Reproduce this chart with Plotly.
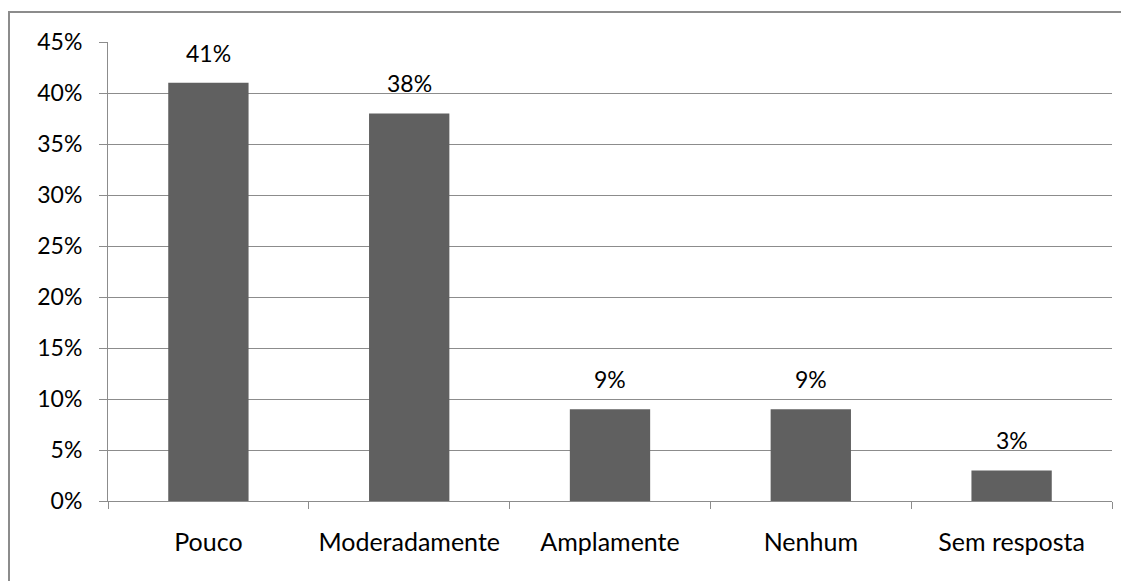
import plotly.graph_objects as go

categories = ["Pouco", "Moderadamente", "Amplamente", "Nenhum", "Sem resposta"]
values = [41, 38, 9, 9, 3]
labels = ["41%", "38%", "9%", "9%", "3%"]
y_ticks = [0, 5, 10, 15, 20, 25, 30, 35, 40, 45]
y_tick_text = ["0%", "5%", "10%", "15%", "20%", "25%", "30%", "35%", "40%", "45%"]

FONT = "Lato"
FS = 23
fig = go.Figure()
fig.add_trace(go.Bar(
    x=categories, y=values,
    marker=dict(color="#606060", line=dict(width=0)),
    width=0.4,
))
for c, v, t in zip(categories, values, labels):
    fig.add_annotation(x=c, y=v, text=t, showarrow=False, yanchor="bottom",
                       yshift=14, font=dict(family=FONT, size=FS, color="#000000"))
fig.update_layout(
    width=1121, height=573,
    margin=dict(l=100, r=17, t=34, b=80),
    paper_bgcolor="white", plot_bgcolor="white",
    showlegend=False,
    font=dict(family=FONT, size=FS, color="#000000"),
    xaxis=dict(type="category", tickson="boundaries", ticks="outside", ticklen=7,
               tickcolor="#8c8c8c", showline=True, linecolor="#8c8c8c", linewidth=1,
               showgrid=False, tickfont=dict(family=FONT, size=25), ticklabelstandoff=19),
    yaxis=dict(range=[0, 45], tickvals=y_ticks, ticktext=y_tick_text, ticks="outside",
               ticklen=8, tickcolor="#8c8c8c", showline=True, linecolor="#8c8c8c",
               linewidth=1, showgrid=True, gridcolor="#8c8c8c", gridwidth=1,
               zeroline=False, tickfont=dict(family=FONT, size=FS), ticklabelstandoff=12),
    shapes=[dict(type="rect", xref="paper", yref="paper", x0=-0.0986, x1=1.1,
                 y0=-0.3, y1=1.0654, line=dict(color="#8c8c8c", width=2),
                 fillcolor="rgba(0,0,0,0)", layer="below")],
)
fig.write_html("out.html")
